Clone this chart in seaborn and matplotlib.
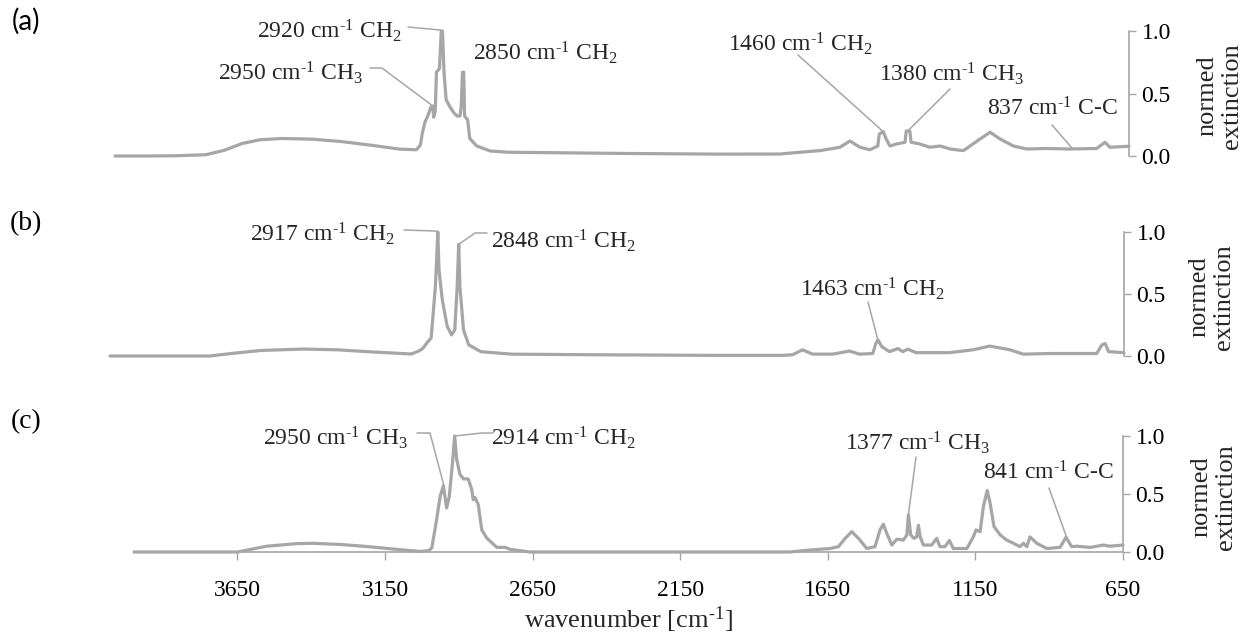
import numpy as np
import matplotlib
matplotlib.use("Agg")
import matplotlib.pyplot as plt
from matplotlib.lines import Line2D
import seaborn as sns

# ---------------- data ----------------
wn_a = [4000, 3900, 3800, 3700, 3640, 3580, 3520, 3450, 3350, 3250, 3150, 3060, 3005,
        2993, 2990, 2985, 2976, 2965, 2957, 2951, 2947, 2942, 2938, 2928, 2922, 2918,
        2913, 2906, 2895, 2882, 2870, 2860, 2856, 2852, 2848, 2845, 2835, 2828, 2805,
        2760, 2700, 2500, 2300, 2000, 1803, 1737, 1671, 1605, 1572, 1539, 1506, 1480,
        1475, 1462, 1453, 1440, 1418, 1390, 1386, 1374, 1370, 1341, 1308, 1274, 1241,
        1197, 1142, 1109, 1076, 1032, 988, 922, 845, 757, 729, 713, 650]
ext_a = [0.0, 0.0, 0.002, 0.01, 0.045, 0.10, 0.13, 0.14, 0.135, 0.115, 0.085, 0.055, 0.05,
         0.08, 0.10, 0.18, 0.27, 0.33, 0.39, 0.40, 0.31, 0.36, 0.67, 0.70, 1.0, 1.0,
         0.67, 0.45, 0.40, 0.35, 0.32, 0.32, 0.40, 0.67, 0.67, 0.32, 0.29, 0.14, 0.08,
         0.04, 0.03, 0.025, 0.02, 0.015, 0.016, 0.03, 0.043, 0.07, 0.12, 0.07, 0.05, 0.08,
         0.176, 0.195, 0.14, 0.08, 0.096, 0.11, 0.20, 0.20, 0.11, 0.096, 0.07, 0.08, 0.056,
         0.043, 0.136, 0.19, 0.136, 0.08, 0.056, 0.06, 0.056, 0.06, 0.11, 0.07, 0.078]

wn_b = [4000, 3900, 3670, 3600, 3500, 3360, 3250, 3150, 3050, 3005, 2980, 2967, 2950,
        2939, 2925, 2917, 2913, 2902, 2886, 2872, 2861, 2853, 2848, 2844, 2832, 2815,
        2775, 2674, 2400, 2000, 1778, 1745, 1712, 1679, 1613, 1557, 1524, 1480, 1470,
        1463, 1450, 1425, 1397, 1381, 1364, 1337, 1226, 1149, 1093, 1027, 983, 894,
        740, 723, 712, 701, 650]
ext_b = [0.0, 0.0, 0.0, 0.02, 0.045, 0.056, 0.05, 0.035, 0.022, 0.016, 0.04, 0.06, 0.115,
         0.145, 0.56, 1.0, 0.69, 0.45, 0.24, 0.17, 0.21, 0.56, 0.90, 0.56, 0.21, 0.09,
         0.035, 0.015, 0.01, 0.005, 0.005, 0.01, 0.05, 0.015, 0.015, 0.04, 0.015, 0.02, 0.10,
         0.13, 0.075, 0.035, 0.06, 0.035, 0.055, 0.027, 0.027, 0.05, 0.08, 0.05, 0.015, 0.02,
         0.02, 0.09, 0.10, 0.035, 0.027]

wn_c = [4000, 3850, 3650, 3550, 3450, 3395, 3300, 3200, 3100, 3031, 3002, 2991, 2975,
        2963, 2952, 2941, 2932, 2920, 2914, 2907, 2896, 2884, 2868, 2856, 2851, 2845,
        2834, 2822, 2805, 2771, 2743, 2726, 2659, 2000, 1778, 1710, 1642, 1614, 1591,
        1569, 1546, 1518, 1490, 1473, 1462, 1448, 1433, 1416, 1394, 1382, 1377, 1369,
        1358, 1349, 1343, 1337, 1326, 1298, 1281, 1270, 1253, 1238, 1225, 1179, 1157,
        1148, 1134, 1123, 1110, 1100, 1087, 1066, 1044, 1021, 999, 987, 976, 965, 942,
        908, 863, 843, 824, 807, 761, 716, 694, 650]
ext_c = [0.0, 0.0, 0.0, 0.05, 0.072, 0.075, 0.065, 0.045, 0.02, 0.005, 0.012, 0.037, 0.28,
         0.48, 0.57, 0.38, 0.48, 0.80, 1.0, 0.80, 0.67, 0.63, 0.63, 0.54, 0.45, 0.47,
         0.41, 0.19, 0.12, 0.04, 0.04, 0.023, 0.0, 0.0, 0.0, 0.017, 0.03, 0.046, 0.118,
         0.175, 0.118, 0.03, 0.046, 0.19, 0.24, 0.147, 0.06, 0.11, 0.103, 0.147, 0.32, 0.147,
         0.118, 0.13, 0.23, 0.13, 0.06, 0.06, 0.118, 0.046, 0.046, 0.10, 0.03, 0.03, 0.13,
         0.19, 0.175, 0.39, 0.53, 0.42, 0.22, 0.147, 0.103, 0.075, 0.046, 0.075, 0.046, 0.13, 0.075,
         0.03, 0.04, 0.127, 0.046, 0.05, 0.04, 0.06, 0.05, 0.06]

x_ticks = [3650, 3150, 2650, 2150, 1650, 1150, 650]
y_ticks = [0.0, 0.5, 1.0]

# annotations: (number, group, peak wavenumber, peak value, text left px, text centre px, leader points px)
ann_a = [("2920", "CH$_{\\mathregular{2}}$", 2919, 1.0, 257, 30, [(408, 27), (440, 30)]),
         ("2950", "CH$_{\\mathregular{3}}$", 2950, 0.40, 218, 72, [(370, 68), (382, 68)]),
         ("2850", "CH$_{\\mathregular{2}}$", None, None, 473, 52, []),
         ("1460", "CH$_{\\mathregular{2}}$", 1462, 0.195, 728, 43, [(798, 55)]),
         ("1380", "CH$_{\\mathregular{3}}$", 1381, 0.20, 879, 73, [(950, 89)]),
         ("837", "C-C", 837, 0.06, 987, 108, [(1052, 125)])]
ann_b = [("2917", "CH$_{\\mathregular{2}}$", 2917, 1.0, 250, 233, [(404, 230), (435, 231)]),
         ("2848", "CH$_{\\mathregular{2}}$", 2848, 0.90, 491, 240, [(487, 233), (475, 233)]),
         ("1463", "CH$_{\\mathregular{2}}$", 1463, 0.13, 800, 288, [(868, 302)])]
ann_c = [("2950", "CH$_{\\mathregular{3}}$", 2950, 0.57, 263, 437, [(417, 433), (430, 433)]),
         ("2914", "CH$_{\\mathregular{2}}$", 2914, 1.0, 491, 437, [(493, 433), (482, 433)]),
         ("1377", "CH$_{\\mathregular{3}}$", 1377, 0.32, 845, 442, [(916, 457)]),
         ("841", "C-C", 841, 0.127, 983, 472, [(1049, 488)])]

# ---------------- style ----------------
sns.set_theme(style="white")
plt.rcParams["font.family"] = ["Liberation Serif", "DejaVu Serif"]
plt.rcParams["mathtext.fontset"] = "custom"
plt.rcParams["mathtext.rm"] = "Liberation Serif"
plt.rcParams["mathtext.it"] = "Liberation Serif"
plt.rcParams["mathtext.bf"] = "Liberation Serif"

W, H = 1249, 637
GRAY = "#A6A6A6"
SUP = "$^{\\mathregular{\u2010}\\mathregular{1}}$"
fig = plt.figure(figsize=(W / 100, H / 100), dpi=100)
fig.patch.set_facecolor("white")


def make_ax(x0, x1, y0, y1):
    return fig.add_axes([x0 / W, (H - y0) / H, (x1 - x0) / W, (y0 - y1) / H])


ax_a = make_ax(115, 1129, 156, 31)
ax_b = make_ax(110, 1124, 356, 232)
ax_c = make_ax(134, 1123, 552, 436)

panels = [(ax_a, wn_a, ext_a, ann_a, "(a)", 21, 1220, 96),
          (ax_b, wn_b, ext_b, ann_b, "(b)", 224, 1212, 297),
          (ax_c, wn_c, ext_c, ann_c, "(c)", 422, 1214, 497)]

for i, (ax, wn, ext, ann, lab, laby, nx, ny) in enumerate(panels):
    sns.lineplot(x=wn, y=ext, ax=ax, color=GRAY, lw=2.3, sort=False, estimator=None)
    for ln in ax.lines:
        ln.set_clip_on(False)
        ln.set_solid_joinstyle("round")
    ax.set_xlim(4000, 650)
    ax.set_ylim(0, 1)
    ax.set_facecolor("none")
    ax.grid(False)
    ax.yaxis.tick_right()
    ax.set_yticks(y_ticks)
    ax.set_yticklabels([f"{v:.1f}" for v in y_ticks])
    ax.tick_params(axis="y", right=True, left=False, direction="out", length=5,
                   width=1.0, color=GRAY, pad=4, labelsize=17, labelcolor="black")
    for s in ["top", "left"]:
        ax.spines[s].set_visible(False)
    ax.spines["right"].set_color(GRAY)
    ax.spines["right"].set_linewidth(1.2)
    if i < 2:
        ax.spines["bottom"].set_visible(False)
        ax.set_xticks([])
    else:
        ax.spines["bottom"].set_color(GRAY)
        ax.spines["bottom"].set_linewidth(1.2)
        ax.set_xticks(x_ticks)
        ax.set_xticklabels([str(t) for t in x_ticks])
        ax.tick_params(axis="x", bottom=True, direction="out", length=6, width=1.0,
                       color=GRAY, pad=14, labelsize=17, labelcolor="black")
    ax.set_xlabel("")
    ax.set_ylabel("")

    # panel label
    fam = ["Lato", "DejaVu Sans"] if i == 0 else ["Liberation Serif"]
    fig.text(26 / W, 1 - laby / H, lab, ha="center", va="center", fontsize=20,
             family=fam, color="black")
    # right axis title
    fig.text(nx / W, 1 - ny / H, "normed\nextinction", rotation=90, ha="center",
             va="center", fontsize=19, linespacing=1.15, multialignment="center")

    # annotations
    for num, grp, pw, pv, tx, ty, leader in ann:
        s = num + " cm" + SUP + " " + grp
        fig.text(tx / W, 1 - (ty + 8) / H, s, ha="left", va="baseline", fontsize=17)
        if pw is not None:
            end_disp = ax.transData.transform((pw, pv))
            end_fig = fig.transFigure.inverted().transform(end_disp)
            xs = [p[0] / W for p in leader] + [end_fig[0]]
            ys = [1 - p[1] / H for p in leader] + [end_fig[1]]
            fig.add_artist(Line2D(xs, ys, transform=fig.transFigure, color=GRAY, lw=1.1))

fig.text(628 / W, 1 - 620 / H, "wavenumber [cm" + SUP + "]", ha="center",
         va="center", fontsize=19)

fig.savefig("out.png", dpi=100, facecolor="white")
